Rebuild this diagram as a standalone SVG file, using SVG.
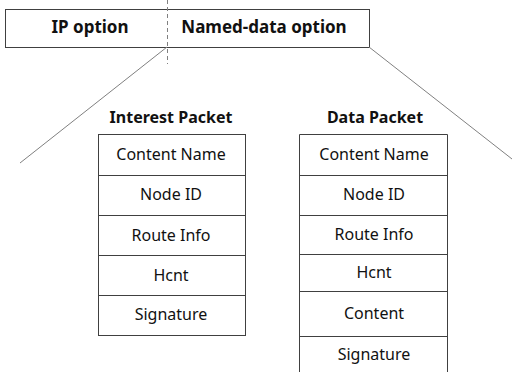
<svg xmlns="http://www.w3.org/2000/svg" width="513" height="372" viewBox="0 0 513 372">
<style>
.box{fill:#fff;stroke:#404040;stroke-width:1}
.sep{stroke:#404040;stroke-width:1}
.t{font-family:"Noto Sans","Open Sans","Liberation Sans",sans-serif;font-size:16px;fill:#111;text-anchor:middle}
.b{font-weight:bold}
.h{font-size:17px}
.conn{stroke:#808080;stroke-width:1;fill:none}
</style>
<rect width="513" height="372" fill="#fff"/>
<g id="header">
<rect class="box" x="5.5" y="9.5" width="364" height="38"/>
<text class="t b h" x="90" y="33">IP option</text>
<text class="t b h" x="264" y="33">Named-data option</text>
</g>
<g id="connectors">
<line class="conn" x1="167.5" y1="0" x2="167.5" y2="64" stroke-dasharray="4,3"/>
<line class="conn" x1="167" y1="47" x2="20" y2="163"/>
<line class="conn" x1="369" y1="47" x2="512" y2="159"/>
</g>
<g id="interest-packet">
<text class="t b" x="171" y="123">Interest Packet</text>
<rect class="box" x="98.5" y="134.5" width="147" height="201"/>
<line class="sep" x1="98" y1="175.5" x2="245" y2="175.5"/>
<line class="sep" x1="98" y1="215.5" x2="245" y2="215.5"/>
<line class="sep" x1="98" y1="255.5" x2="245" y2="255.5"/>
<line class="sep" x1="98" y1="295.5" x2="245" y2="295.5"/>
<text class="t" x="171" y="160">Content Name</text>
<text class="t" x="171" y="200">Node ID</text>
<text class="t" x="171" y="241">Route Info</text>
<text class="t" x="171" y="281">Hcnt</text>
<text class="t" x="171" y="320">Signature</text>
</g>
<g id="data-packet">
<text class="t b" x="375" y="123">Data Packet</text>
<path class="box" d="M299.5,373 V134.5 H447.5 V373"/>
<line class="sep" x1="299" y1="175.5" x2="448" y2="175.5"/>
<line class="sep" x1="299" y1="215.5" x2="448" y2="215.5"/>
<line class="sep" x1="299" y1="254.5" x2="448" y2="254.5"/>
<line class="sep" x1="299" y1="291.5" x2="448" y2="291.5"/>
<line class="sep" x1="299" y1="336.5" x2="448" y2="336.5"/>
<text class="t" x="374" y="160">Content Name</text>
<text class="t" x="374" y="200">Node ID</text>
<text class="t" x="374" y="240">Route Info</text>
<text class="t" x="374" y="278">Hcnt</text>
<text class="t" x="374" y="319">Content</text>
<text class="t" x="374" y="360">Signature</text>
</g>
</svg>
